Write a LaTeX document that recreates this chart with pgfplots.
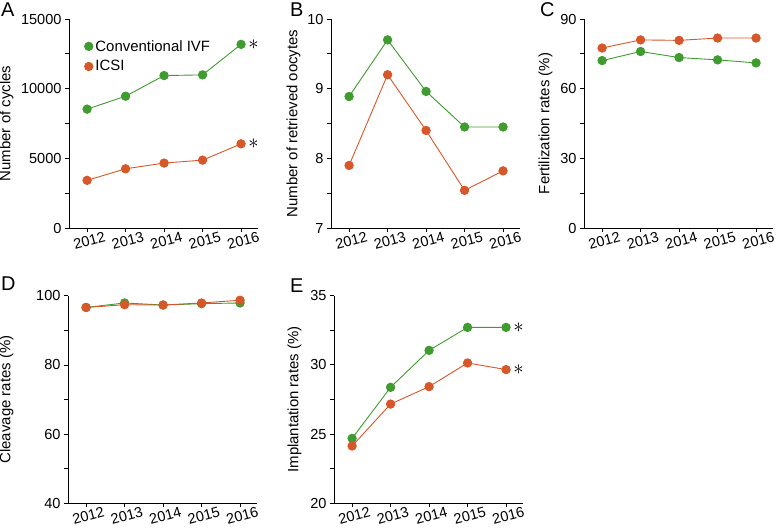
\documentclass[border=0pt]{standalone}
\usepackage{fontspec}
\setmainfont{Liberation Sans}
\usepackage{pgfplots}
\pgfplotsset{compat=1.18}
\definecolor{cgreen}{RGB}{64,155,48}
\definecolor{corange}{RGB}{214,88,42}
\pgfplotsset{
  panel/.style={
    scale only axis, width=189bp, height=209bp,
    axis lines*=left, axis line style={line width=0.8bp, black},
    xmin=-0.47, xmax=4.44,
    xtick={0,...,4}, xticklabels={2012,2013,2014,2015,2016},
    xticklabel style={rotate=15, anchor=north, font=\fontsize{14.6}{14.6}\selectfont},
    yticklabel style={font=\fontsize{14.6}{14.6}\selectfont},
    tick align=outside, major tick length=4bp, minor tick length=4bp,
    tick style={black, line width=0.8bp},
    minor y tick num=1,
    /pgf/number format/assume math mode=true,
    /pgf/number format/1000 sep={},
    scaled y ticks=false,
    clip=false,
    ylabel style={font=\fontsize{15}{15}\selectfont, anchor=south},
    every axis plot/.append style={line width=0.9bp, mark=*, mark size=4.2bp},
  },
  gr/.style={cgreen, mark options={fill=cgreen, draw=cgreen}},
  og/.style={corange, mark options={fill=corange, draw=corange}},
}
\newcommand{\sigast}{\fontsize{20}{20}\selectfont$\ast$}
\begin{document}
\begin{tikzpicture}
\path[use as bounding box] (0bp,0bp) rectangle (776bp,528bp);
% Panel A
\begin{axis}[panel, at={(69bp,300bp)}, anchor=south west,
  ymin=0, ymax=15000, ytick={0,5000,10000,15000},
  ylabel={Number of cycles}, ylabel style={at={(axis description cs:-0.275,0.5)}},
  legend style={draw=none, fill=none, at={(axis description cs:0.079,0.909)}, anchor=north west,
    inner sep=0pt, row sep=4bp, font=\fontsize{15}{15}\selectfont, legend cell align=left},
  legend image code/.code={\fill[#1] (4.2bp,0) circle (4.2bp);}]
\addplot[gr] coordinates {(0,8530) (1,9460) (2,10940) (3,10990) (4,13180)};
\addlegendentry{Conventional IVF}
\addplot[og] coordinates {(0,3420) (1,4250) (2,4660) (3,4870) (4,6040)};
\addlegendentry{ICSI}
\node[anchor=west, inner sep=0pt, xshift=7bp] at (axis cs:4,13180) {\sigast};
\node[anchor=west, inner sep=0pt, xshift=7bp] at (axis cs:4,6040) {\sigast};
\end{axis}
% Panel B
\begin{axis}[panel, at={(331bp,300bp)}, anchor=south west,
  ymin=7, ymax=10, ytick={7,8,9,10},
  ylabel={Number of retrieved oocytes}, ylabel style={at={(axis description cs:-0.143,0.5)}}]
\addplot[gr] coordinates {(0,8.887) (1,9.70) (2,8.96) (3,8.45) (4,8.45)};
\addplot[og] coordinates {(0,7.898) (1,9.20) (2,8.40) (3,7.54) (4,7.82)};
\end{axis}
% Panel C
\begin{axis}[panel, at={(584bp,300bp)}, anchor=south west,
  ymin=0, ymax=90, ytick={0,30,60,90},
  ylabel={Fertilization rates (\%)}, ylabel style={at={(axis description cs:-0.148,0.5)}}]
\addplot[gr] coordinates {(0,72.1) (1,76.0) (2,73.4) (3,72.4) (4,71.1)};
\addplot[og] coordinates {(0,77.5) (1,81.0) (2,80.8) (3,81.8) (4,81.8)};
\end{axis}
% Panel D
\begin{axis}[panel, at={(68bp,24.7bp)}, anchor=south west, height=207.6bp,
  ymin=40, ymax=100, ytick={40,60,80,100},
  ylabel={Cleavage rates (\%)}, ylabel style={at={(axis description cs:-0.27,0.5)}}]
\addplot[gr] coordinates {(0,96.6) (1,97.9) (2,97.3) (3,97.7) (4,97.9)};
\addplot[og] coordinates {(0,96.6) (1,97.4) (2,97.3) (3,97.9) (4,98.7)};
\end{axis}
% Panel E
\begin{axis}[panel, at={(334bp,24.7bp)}, anchor=south west, height=207.6bp,
  ymin=20, ymax=35, ytick={20,25,30,35},
  ylabel={Implantation rates (\%)}, ylabel style={at={(axis description cs:-0.153,0.5)}}]
\addplot[gr] coordinates {(0,24.69) (1,28.38) (2,31.05) (3,32.71) (4,32.71)};
\addplot[og] coordinates {(0,24.14) (1,27.17) (2,28.43) (3,30.14) (4,29.66)};
\node[anchor=west, inner sep=0pt, xshift=7bp] at (axis cs:4,32.71) {\sigast};
\node[anchor=west, inner sep=0pt, xshift=7bp] at (axis cs:4,29.66) {\sigast};
\end{axis}
% Panel letters
\begin{scope}[every node/.style={inner sep=0pt, anchor=base west, font=\fontsize{20}{20}\selectfont}]
\node at (1bp,511bp) {A};
\node at (290bp,511bp) {B};
\node at (540bp,511bp) {C};
\node at (1bp,237bp) {D};
\node at (290bp,235bp) {E};
\end{scope}
\end{tikzpicture}
\end{document}
